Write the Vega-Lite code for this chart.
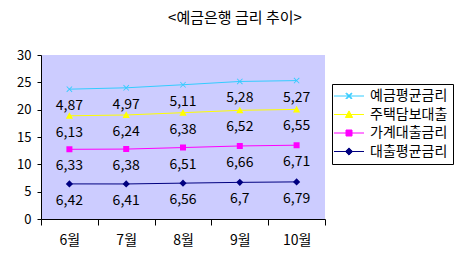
{
  "$schema": "https://vega.github.io/schema/vega-lite/v6.json",
  "autosize": "none",
  "width": 284,
  "height": 164,
  "padding": {"left": 41, "top": 55, "right": 146, "bottom": 40},
  "background": "white",
  "config": {
    "locale": {"number": {"decimal": ",", "thousands": ".", "grouping": [3], "currency": ["", ""]}},
    "view": {"fill": "#CCCCFF", "stroke": null},
    "font": "Noto Sans CJK KR"
  },
  "title": {
    "text": "<예금은행 금리 추이>",
    "font": "Noto Sans CJK KR",
    "fontSize": 15,
    "fontWeight": "normal",
    "color": "black",
    "anchor": "middle",
    "frame": "group",
    "dx": 52,
    "offset": 23
  },
  "data": {
    "values": [
      {"month": "6월", "series": "대출평균금리", "rank": 1, "value": 6.42},
      {"month": "7월", "series": "대출평균금리", "rank": 1, "value": 6.41},
      {"month": "8월", "series": "대출평균금리", "rank": 1, "value": 6.56},
      {"month": "9월", "series": "대출평균금리", "rank": 1, "value": 6.7},
      {"month": "10월", "series": "대출평균금리", "rank": 1, "value": 6.79},
      {"month": "6월", "series": "가계대출금리", "rank": 2, "value": 6.33},
      {"month": "7월", "series": "가계대출금리", "rank": 2, "value": 6.38},
      {"month": "8월", "series": "가계대출금리", "rank": 2, "value": 6.51},
      {"month": "9월", "series": "가계대출금리", "rank": 2, "value": 6.66},
      {"month": "10월", "series": "가계대출금리", "rank": 2, "value": 6.71},
      {"month": "6월", "series": "주택담보대출", "rank": 3, "value": 6.13},
      {"month": "7월", "series": "주택담보대출", "rank": 3, "value": 6.24},
      {"month": "8월", "series": "주택담보대출", "rank": 3, "value": 6.38},
      {"month": "9월", "series": "주택담보대출", "rank": 3, "value": 6.52},
      {"month": "10월", "series": "주택담보대출", "rank": 3, "value": 6.55},
      {"month": "6월", "series": "예금평균금리", "rank": 4, "value": 4.87},
      {"month": "7월", "series": "예금평균금리", "rank": 4, "value": 4.97},
      {"month": "8월", "series": "예금평균금리", "rank": 4, "value": 5.11},
      {"month": "9월", "series": "예금평균금리", "rank": 4, "value": 5.28},
      {"month": "10월", "series": "예금평균금리", "rank": 4, "value": 5.27}
    ]
  },
  "transform": [
    {"stack": "value", "groupby": ["month"], "sort": [{"field": "rank", "order": "ascending"}], "as": ["y0", "y1"]}
  ],
  "encoding": {
    "x": {
      "field": "month", "type": "nominal",
      "sort": ["6월", "7월", "8월", "9월", "10월"],
      "scale": {"paddingInner": 0, "paddingOuter": 0},
      "axis": {
        "title": null, "labelAngle": 0, "labelFontSize": 14, "labelColor": "black",
        "labelFont": "Noto Sans CJK KR",
        "domainColor": "black", "tickColor": "black", "tickBand": "extent",
        "tickSize": 6, "labelPadding": 8, "grid": false
      }
    },
    "y": {
      "field": "y1", "type": "quantitative",
      "scale": {"domain": [0, 30], "nice": false},
      "axis": {
        "title": null, "values": [0, 5, 10, 15, 20, 25, 30], "labelFontSize": 13,
        "labelColor": "black", "domainColor": "black", "tickColor": "black",
        "tickSize": 4, "labelPadding": 6, "grid": false
      }
    }
  },
  "layer": [
    {
      "mark": {"type": "line", "strokeWidth": 1},
      "encoding": {
        "color": {
          "field": "series", "type": "nominal",
          "scale": {
            "domain": ["예금평균금리", "주택담보대출", "가계대출금리", "대출평균금리"],
            "range": ["#33CCFF", "#FFFF00", "#FF00FF", "#000080"]
          }
        },
        "detail": {"field": "series"}
      }
    },
    {
      "mark": {"type": "point", "filled": true, "opacity": 1, "size": 36},
      "encoding": {
        "color": {
          "field": "series", "type": "nominal",
          "legend": {
            "title": null, "orient": "none", "legendX": 291, "legendY": 29,
            "strokeColor": "black", "fillColor": "white", "padding": 5,
            "labelFontSize": 14, "labelColor": "black", "labelFont": "Noto Sans CJK KR",
            "symbolSize": 36, "symbolOffset": 5, "labelOffset": 14, "rowPadding": 4.5,
            "symbolStrokeWidth": 1,
            "encode": {"symbols": {"update": {"stroke": {"scale": "color", "field": "value"}, "strokeWidth": {"value": 1}, "opacity": {"value": 1}}}}
          }
        },
        "shape": {
          "field": "series", "type": "nominal",
          "scale": {
            "domain": ["예금평균금리", "주택담보대출", "가계대출금리", "대출평균금리"],
            "range": [
              "M-5,0L5,0M-1,-0.8L0.8,1L1,0.8L-0.8,-1ZM-1,0.8L-0.8,1L1,-0.8L0.8,-1Z",
              "M-5,0L5,0M0,-1.2L1.2,1L-1.2,1Z",
              "M-5,0L5,0M-1,-1L1,-1L1,1L-1,1Z",
              "M-5,0L5,0M0,-1.2L1.2,0L0,1.2L-1.2,0Z"
            ]
          }
        }
      }
    },
    {
      "mark": {"type": "text", "dy": 17, "fontSize": 14, "color": "black", "baseline": "middle", "font": "Noto Sans CJK KR"},
      "encoding": {
        "text": {"field": "value", "type": "quantitative", "format": "~g"}
      }
    }
  ]
}
